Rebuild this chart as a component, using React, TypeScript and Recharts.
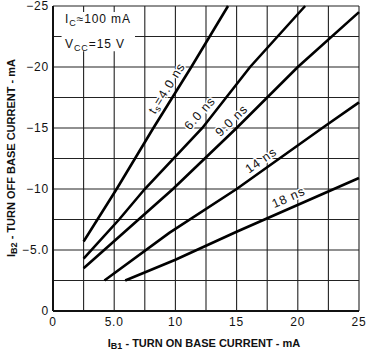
import React from 'react';
import {
  LineChart,
  Line,
  XAxis,
  YAxis,
  CartesianGrid,
  ReferenceDot,
  ReferenceArea,
} from 'recharts';

const FONT = '"Liberation Sans", Arial, sans-serif';

// grid every 2.5 mA, labels every 5
const xTicks = [0, 2.5, 5, 7.5, 10, 12.5, 15, 17.5, 20, 22.5, 25];
const yTicks = [-25, -22.5, -20, -17.5, -15, -12.5, -10, -7.5, -5, -2.5, 0];

// IB1 (x) vs IB2 (y) for each storage time
const ts4X = [2.5, 5.2, 8.2, 11.3, 14.3];
const ts4Y = [-5.7, -10, -15, -20, -25];
const ts6X = [2.5, 5.4, 7.5, 12.2, 16.1, 20.6];
const ts6Y = [-4.3, -7.5, -10, -15, -20, -25];
const ts9X = [2.5, 9.8, 15, 20, 25];
const ts9Y = [-3.5, -10, -15, -20, -24.5];
const ts14X = [4.2, 9.5, 15, 22, 25];
const ts14Y = [-2.5, -6.4, -10, -15, -17.1];
const ts18X = [5.9, 10, 15, 25];
const ts18Y = [-2.5, -4.2, -6.5, -10.9];

// curve labels: position (data units) and angle
const tagText = ['4.0 ns', '6.0 ns', '9.0 ns', '14 ns', '18 ns'];
const tagX = [9.3, 12.0, 14.6, 17.0, 19.25];
const tagY = [-18.25, -16.2, -15.6, -12.35, -9.3];
const tagAngle = [-58, -48, -44, -35, -24];

const pts = (xs: number[], ys: number[]) => xs.map((x, i) => ({ x, y: ys[i] }));
const series = [
  pts(ts4X, ts4Y),
  pts(ts6X, ts6Y),
  pts(ts9X, ts9Y),
  pts(ts14X, ts14Y),
  pts(ts18X, ts18Y),
];

const fmtX = (v: number) => (v % 5 !== 0 ? '' : v === 5 ? '5.0' : String(v));
const fmtY = (v: number) =>
  v % 5 !== 0 ? '' : v === 0 ? '0' : v === -5 ? '\u22125.0' : '\u2212' + Math.abs(v);

const tickStyle = { fill: '#111', fontSize: 12, fontFamily: FONT, letterSpacing: 0.8 };

const Tag = (props: any) => {
  const vb = props.viewBox || {};
  const cx = (vb.x ?? 0) + (vb.width ?? 0) / 2;
  const cy = (vb.y ?? 0) + (vb.height ?? 0) / 2;
  const i = props.idx;
  return (
    <text
      x={cx}
      y={cy}
      textAnchor="middle"
      dominantBaseline="central"
      transform={`rotate(${tagAngle[i]} ${cx} ${cy})`}
      fontFamily={FONT}
      fontSize={12.5}
      letterSpacing={0.9}
      fill="#111"
      stroke="#fff"
      strokeWidth={3}
      paintOrder="stroke"
    >
      {i === 0 ? (
        <>
          <tspan>t</tspan>
          <tspan fontSize={9} dy={3}>s</tspan>
          <tspan dy={-3}>={tagText[i]}</tspan>
        </>
      ) : (
        tagText[i]
      )}
    </text>
  );
};

const Conditions = () => (
  <g fontFamily={FONT} fontSize={12} letterSpacing={0.9} fill="#111">
    <text x={65} y={23}>
      <tspan>I</tspan>
      <tspan fontSize={9} dy={3}>C</tspan>
      <tspan dy={-3}>≈100  mA</tspan>
    </text>
    <text x={65} y={48}>
      <tspan>V</tspan>
      <tspan fontSize={9} dy={3}>CC</tspan>
      <tspan dy={-3}>=15  V</tspan>
    </text>
  </g>
);

const XTitle = () => (
  <text x={204} y={347} textAnchor="middle" fontFamily={FONT} fontSize={11} fontWeight="bold" fill="#111">
    <tspan>I</tspan>
    <tspan fontSize={9} dy={2}>B1</tspan>
    <tspan dy={-2}> - TURN ON BASE CURRENT - mA</tspan>
  </text>
);

const YTitle = () => (
  <text
    x={15}
    y={158}
    textAnchor="middle"
    transform="rotate(-90 15 158)"
    fontFamily={FONT}
    fontSize={11}
    fontWeight="bold"
    fill="#111"
  >
    <tspan>I</tspan>
    <tspan fontSize={9} dy={2}>B2</tspan>
    <tspan dy={-2}> - TURN OFF BASE CURRENT - mA</tspan>
  </text>
);

export default function App() {
  return (
    <div style={{ position: 'absolute', left: 0, top: 0, background: '#fff' }}>
      <LineChart width={366} height={356} margin={{ top: 6, right: 7, left: 0, bottom: 15 }}>
        <CartesianGrid stroke="#222" strokeWidth={1.1} />
        <XAxis
          type="number"
          dataKey="x"
          domain={[0, 25]}
          ticks={xTicks}
          interval={0}
          tickFormatter={fmtX}
          tickLine={false}
          tickMargin={0}
          axisLine={{ stroke: '#111', strokeWidth: 2 }}
          tick={tickStyle}
          height={30}
          label={<XTitle />}
        />
        <YAxis
          type="number"
          domain={[-25, 0]}
          reversed
          ticks={yTicks}
          interval={0}
          tickFormatter={fmtY}
          tickLine={false}
          tickSize={4}
          tickMargin={0}
          axisLine={{ stroke: '#111', strokeWidth: 2 }}
          tick={tickStyle}
          width={53}
          label={<YTitle />}
        />
        <ReferenceArea
          x1={0.7}
          x2={6.7}
          y1={-21.3}
          y2={-24.5}
          fill="#fff"
          fillOpacity={1}
          stroke="none"
          label={<Conditions />}
        />
        {series.map((d, i) => (
          <Line
            key={i}
            data={d}
            dataKey="y"
            type="linear"
            stroke="#000"
            strokeWidth={2.6}
            dot={false}
            isAnimationActive={false}
          />
        ))}
        {tagText.map((t, i) => (
          <ReferenceDot
            key={t}
            x={tagX[i]}
            y={tagY[i]}
            r={0}
            fill="none"
            stroke="none"
            label={<Tag idx={i} />}
          />
        ))}
      </LineChart>
    </div>
  );
}
